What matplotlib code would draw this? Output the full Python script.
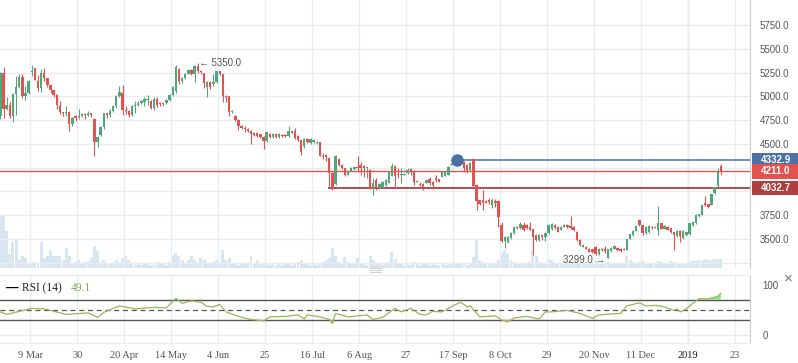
import matplotlib
matplotlib.use('Agg')
import matplotlib.pyplot as plt
from matplotlib.lines import Line2D
from matplotlib.patches import Rectangle
from matplotlib.transforms import blended_transform_factory

# daily candles (index 0 = first candle on the left)
opens = [4790, 5241, 4868, 4914, 4790, 5027, 5100, 5202, 5001, 5030,
         5255, 5293, 5160, 5089, 5250, 5188, 5114, 5065, 5019, 4896,
         4837, 4828, 4840, 4710, 4790, 4780, 4790, 4818, 4800, 4822,
         4766, 4520, 4595, 4674, 4822, 4800, 4850, 4896, 5001, 5040,
         4861, 4850, 4808, 4900, 4910, 4930, 4940, 4960, 4948, 4879,
         4974, 4930, 4930, 4930, 4966, 5009, 5054, 5290, 5160, 5195,
         5237, 5280, 5237, 5318, 5270, 5250, 5100, 5150, 5130, 5150,
         5265, 5237, 5005, 5001, 4835, 4798, 4755, 4692, 4670, 4660,
         4640, 4615, 4610, 4600, 4569, 4534, 4608, 4573, 4600, 4573,
         4595, 4595, 4580, 4632, 4632, 4580, 4537, 4474, 4552, 4510,
         4515, 4505, 4516, 4376, 4386, 4351, 4193, 4080, 4340, 4280,
         4245, 4178, 4217, 4238, 4260, 4281, 4270, 4245, 4228, 4032,
         4122, 4038, 4049, 4070, 4091, 4165, 4270, 4180, 4170, 4175,
         4196, 4238, 4217, 4112, 4080, 4080, 4091, 4133, 4101, 4143,
         4133, 4154, 4165, 4175, 4281, 4300, 4302, 4344, 4313, 4281,
         4228, 4344, 4070, 3911, 3911, 3900, 3911, 3860, 3900, 3901,
         3648, 3480, 3470, 3514, 3560, 3630, 3613, 3648, 3648, 3630,
         3605, 3542, 3489, 3542, 3524, 3560, 3600, 3648, 3630, 3595,
         3630, 3648, 3640, 3630, 3577, 3489, 3420, 3420, 3400, 3390,
         3419, 3340, 3400, 3395, 3305, 3373, 3395, 3408, 3400, 3400,
         3384, 3500, 3542, 3584, 3700, 3648, 3560, 3570, 3630, 3620,
         3595, 3665, 3610, 3630, 3613, 3570, 3530, 3584, 3506, 3540,
         3550, 3648, 3665, 3740, 3753, 3876, 3866, 3859, 3982, 4052,
         4263]
highs = [5260, 5307, 4990, 4940, 5040, 5209, 5230, 5240, 5110, 5170,
         5325, 5300, 5223, 5290, 5300, 5190, 5120, 5070, 5020, 4950,
         4840, 4900, 4845, 4780, 4800, 4870, 4830, 4820, 4850, 4830,
         4770, 4580, 4690, 4830, 4830, 4870, 4910, 5010, 5110, 5117,
         4900, 4860, 4910, 4950, 4950, 4960, 4990, 5010, 4960, 4990,
         4990, 4940, 4935, 4975, 5020, 5110, 5330, 5300, 5200, 5250,
         5290, 5290, 5330, 5350, 5280, 5250, 5160, 5160, 5240, 5270,
         5270, 5240, 5010, 5005, 4860, 4800, 4760, 4700, 4690, 4670,
         4650, 4620, 4620, 4605, 4580, 4625, 4615, 4615, 4610, 4612,
         4600, 4600, 4685, 4640, 4670, 4590, 4540, 4560, 4560, 4560,
         4555, 4530, 4520, 4400, 4390, 4355, 4200, 4380, 4350, 4290,
         4250, 4225, 4255, 4265, 4376, 4313, 4280, 4260, 4240, 4143,
         4143, 4090, 4110, 4130, 4215, 4302, 4275, 4249, 4249, 4195,
         4249, 4249, 4225, 4115, 4101, 4085, 4125, 4150, 4105, 4175,
         4135, 4210, 4210, 4265, 4295, 4340, 4345, 4386, 4318, 4285,
         4306, 4350, 4075, 3915, 4017, 3905, 3930, 3930, 3920, 3905,
         3680, 3530, 3530, 3570, 3640, 3640, 3683, 3683, 3660, 3683,
         3610, 3550, 3550, 3545, 3570, 3655, 3665, 3655, 3635, 3635,
         3655, 3655, 3746, 3635, 3580, 3495, 3445, 3425, 3405, 3395,
         3425, 3405, 3405, 3430, 3395, 3415, 3440, 3415, 3405, 3405,
         3505, 3555, 3590, 3645, 3705, 3650, 3635, 3645, 3635, 3640,
         3851, 3670, 3645, 3635, 3620, 3575, 3590, 3590, 3590, 3575,
         3670, 3690, 3760, 3765, 3865, 3954, 3870, 3975, 4050, 4245,
         4288]
lows = [4760, 4773, 4860, 4770, 4727, 4808, 5090, 4980, 4960, 5020,
        5212, 5170, 5054, 5050, 5160, 5100, 5040, 4990, 4870, 4810,
        4790, 4790, 4639, 4690, 4740, 4760, 4780, 4760, 4790, 4780,
        4368, 4470, 4580, 4660, 4770, 4780, 4840, 4880, 4990, 4808,
        4810, 4780, 4790, 4830, 4900, 4920, 4900, 4910, 4870, 4860,
        4890, 4900, 4900, 4920, 4950, 5000, 5040, 5130, 5140, 5180,
        5230, 5220, 5150, 5250, 5240, 5090, 4990, 5080, 5110, 5140,
        5220, 4938, 4940, 4798, 4830, 4740, 4650, 4660, 4630, 4620,
        4500, 4580, 4570, 4560, 4450, 4520, 4560, 4560, 4565, 4565,
        4575, 4575, 4570, 4610, 4550, 4530, 4380, 4460, 4510, 4500,
        4505, 4495, 4370, 4340, 4315, 4052, 4020, 4070, 4270, 4240,
        4160, 4170, 4210, 4230, 4200, 4175, 4157, 4143, 4030, 3964,
        4017, 4030, 4040, 4060, 4085, 4160, 4038, 4143, 4091, 4170,
        4180, 4175, 4070, 4095, 4060, 4017, 4085, 4070, 4028, 4101,
        4095, 4150, 4160, 4170, 4278, 4295, 4295, 4300, 4207, 4196,
        4220, 4055, 3810, 3860, 3806, 3875, 3870, 3830, 3840, 3630,
        3470, 3405, 3460, 3505, 3555, 3600, 3600, 3580, 3600, 3590,
        3331, 3480, 3480, 3489, 3476, 3555, 3590, 3610, 3570, 3590,
        3625, 3620, 3605, 3585, 3480, 3430, 3415, 3390, 3360, 3355,
        3331, 3335, 3375, 3355, 3299, 3365, 3390, 3375, 3365, 3380,
        3380, 3495, 3535, 3580, 3640, 3540, 3555, 3565, 3605, 3615,
        3542, 3600, 3605, 3590, 3560, 3384, 3525, 3468, 3500, 3535,
        3545, 3640, 3660, 3735, 3750, 3848, 3825, 3855, 3975, 4045,
        4168]
closes = [5241, 4868, 4914, 4790, 5027, 5100, 5202, 5001, 5030, 5160,
          5270, 5177, 5089, 5241, 5188, 5114, 5065, 5019, 4906, 4837,
          4828, 4840, 4710, 4773, 4770, 4790, 4818, 4800, 4822, 4800,
          4520, 4569, 4674, 4822, 4800, 4850, 4896, 5001, 5043, 4861,
          4850, 4808, 4903, 4910, 4930, 4950, 4970, 4970, 4879, 4974,
          4906, 4915, 4915, 4966, 5009, 5096, 5307, 5160, 5195, 5237,
          5272, 5230, 5318, 5265, 5255, 5143, 5150, 5100, 5150, 5265,
          5237, 5001, 4995, 4833, 4850, 4755, 4692, 4670, 4657, 4640,
          4600, 4590, 4580, 4575, 4534, 4621, 4573, 4608, 4573, 4608,
          4580, 4580, 4632, 4615, 4562, 4537, 4410, 4552, 4516, 4550,
          4545, 4525, 4376, 4362, 4362, 4193, 4035, 4368, 4280, 4245,
          4178, 4217, 4249, 4260, 4249, 4249, 4242, 4255, 4032, 4091,
          4038, 4080, 4101, 4122, 4207, 4270, 4165, 4170, 4180, 4186,
          4228, 4207, 4101, 4101, 4070, 4049, 4122, 4091, 4070, 4122,
          4101, 4207, 4207, 4260, 4291, 4333, 4333, 4313, 4249, 4228,
          4302, 4060, 3900, 3869, 3880, 3880, 3890, 3911, 3880, 3735,
          3482, 3520, 3524, 3560, 3630, 3613, 3655, 3595, 3613, 3595,
          3524, 3489, 3542, 3524, 3566, 3648, 3660, 3620, 3577, 3630,
          3648, 3630, 3613, 3595, 3489, 3437, 3437, 3400, 3366, 3366,
          3340, 3400, 3384, 3370, 3391, 3408, 3430, 3384, 3377, 3384,
          3500, 3550, 3584, 3640, 3648, 3560, 3630, 3640, 3613, 3630,
          3665, 3605, 3640, 3595, 3570, 3542, 3584, 3530, 3584, 3570,
          3665, 3683, 3753, 3760, 3859, 3859, 3834, 3971, 4045, 4210,
          4211]
volume = [53, 53, 37, 14, 26, 29, 8, 12, 10, 5,
          5, 6, 5, 26, 10, 12, 17, 12, 12, 12,
          8, 20, 12, 4, 6, 8, 4, 6, 7, 10,
          22, 17, 6, 8, 5, 4, 5, 8, 4, 10,
          12, 8, 4, 3, 4, 3, 4, 4, 3, 3,
          6, 5, 4, 3, 6, 12, 15, 12, 8, 4,
          8, 12, 8, 5, 10, 8, 4, 5, 6, 8,
          5, 18, 8, 10, 4, 5, 3, 5, 4, 4,
          12, 4, 8, 4, 4, 4, 3, 4, 3, 4,
          3, 4, 5, 3, 4, 6, 8, 5, 4, 3,
          4, 3, 5, 6, 8, 10, 20, 12, 6, 5,
          11, 6, 4, 5, 10, 5, 4, 3, 12, 8,
          5, 4, 3, 4, 6, 16, 9, 5, 4, 3,
          4, 3, 6, 4, 3, 5, 4, 3, 4, 3,
          3, 4, 3, 4, 5, 6, 4, 5, 4, 3,
          5, 11, 28, 8, 6, 5, 4, 5, 4, 8,
          15, 18, 15, 8, 6, 4, 5, 4, 5, 6,
          17, 12, 6, 5, 4, 9, 8, 4, 5, 4,
          4, 5, 4, 6, 8, 5, 4, 4, 5, 6,
          8, 5, 4, 5, 6, 5, 4, 4, 5, 4,
          12, 8, 6, 5, 6, 7, 5, 4, 4, 5,
          7, 6, 5, 5, 7, 6, 5, 4, 4, 5,
          6, 7, 7, 8, 8, 9, 8, 8, 9, 9,
          9]

# RSI(14) line, points
rsi_idx = [0, 2, 10, 14, 21, 28, 31, 33, 38, 43, 49, 53, 56, 58, 61, 64,
           66, 68, 70, 72, 77, 80, 84, 86, 91, 95, 97, 98, 102, 105, 106,
           107, 111, 117, 119, 122, 126, 128, 131, 134, 136, 138, 141, 145,
           147, 149, 150, 153, 158, 160, 162, 164, 168, 172, 174, 176, 181,
           185, 189, 191, 195, 198, 200, 202, 204, 206, 209, 212, 215, 216,
           217, 219, 220, 223, 226, 229, 230]
rsi_val = [46, 41, 53, 52, 41, 44, 35, 45, 58, 52, 55, 54, 73, 63, 68, 65,
           57, 56, 61, 46, 35, 31, 28, 36, 37, 40, 32, 40, 36, 31, 23,
           43, 36, 40, 31, 35, 53, 46, 53, 41, 40, 47, 46, 60,
           65, 56, 58, 36, 38, 30, 26, 34, 37, 32, 46, 46, 49,
           43, 33, 40, 42, 43, 58, 61, 64, 58, 59, 56, 49, 52,
           46, 52, 58, 72, 72, 77, 83]

tick_labels = ['9 Mar', '30', '20 Apr', '14 May', '4 Jun', '25', '16 Jul',
               '6 Aug', '27', '17 Sep', '8 Oct', '29', '20 Nov', '11 Dec',
               '2019', '23']
price_grid = [3250, 3500, 3750, 4000, 4250, 4500, 4750, 5000, 5250, 5500, 5750]
hidden_labels = [3250, 4000, 4250]

high_mark = (63, 5350.0)
low_mark = (194, 3299.0)
pivot = (145.7, 4332.9)
last_price = 4211.0
support = (104.6, 4032.7)

GREEN = '#55a57c'
RED = '#e2534f'
DARK_RED = '#ad3f3f'
BLUE = '#4a70a8'
GRID = '#e9ecf0'
TEXT = '#555555'

W, H = 798, 363


def px_axes(fig, x0, y0, x1, y1):
    return fig.add_axes([x0 / W, 1 - y1 / H, (x1 - x0) / W, (y1 - y0) / H])


def draw_price(ax):
    n = len(closes)
    x = list(range(n))
    colors = [GREEN if c >= o else RED for o, c in zip(opens, closes)]
    bottoms = [min(o, c) for o, c in zip(opens, closes)]
    heights = [max(abs(c - o), 9) for o, c in zip(opens, closes)]
    ax.vlines(x, lows, highs, colors=colors, linewidth=0.8, zorder=3)
    ax.bar(x, heights, bottom=bottoms, width=0.75, color=colors,
           linewidth=0, zorder=4)

    for level in price_grid:
        ax.axhline(level, color=GRID, linewidth=1, zorder=0)

    # drawn levels
    ax.axhline(last_price, color=RED, linewidth=1, zorder=2)
    ax.hlines(support[1], support[0], 250, color=DARK_RED, linewidth=1.3, zorder=2)
    ax.hlines(pivot[1], pivot[0], 250, color=BLUE, linewidth=1.1, zorder=2)
    ax.plot(pivot[0], pivot[1], 'o', color=BLUE, markersize=8, zorder=5)

    ax.text(high_mark[0] + 0.5, high_mark[1], '\u2190 ' + '%.1f' % high_mark[1],
            ha='left', va='center', fontsize=7, color=TEXT, zorder=6)
    ax.text(low_mark[0] - 0.9, low_mark[1] - 20, '%.1f' % low_mark[1] + ' \u2192',
            ha='right', va='center', fontsize=7, color=TEXT, zorder=6)

    ax.set_ylim(3195, 6013)
    ax.yaxis.tick_right()
    ax.set_yticks(price_grid)
    ax.set_yticklabels(['' if v in hidden_labels else '%.1f' % v for v in price_grid],
                       fontsize=7, color=TEXT)
    ax.tick_params(axis='y', length=0, pad=7)
    ax.tick_params(axis='x', length=0, labelbottom=False)

    # price tags on the right
    trans = blended_transform_factory(ax.transAxes, ax.transData)
    tag_h = 150
    for level, color in [(pivot[1], BLUE), (last_price, RED), (support[1], DARK_RED)]:
        ax.add_patch(Rectangle((1.002, level - tag_h / 2), 0.07, tag_h,
                               transform=trans, facecolor=color, edgecolor='none',
                               clip_on=False, zorder=7))
        ax.text(1.0145, level, '%.1f' % level, transform=trans, ha='left',
                va='center', fontsize=7, color='white', fontweight='bold',
                clip_on=False, zorder=8)


def draw_volume(ax):
    vol = ax.twinx()
    vol.bar(range(len(volume)), volume, width=0.95, color='#d9e5f0', linewidth=0)
    vol.set_ylim(0, max(volume) * 5.05)
    vol.axis('off')
    ax.set_zorder(vol.get_zorder() + 1)
    ax.patch.set_visible(False)


def draw_rsi(ax):
    ax.plot(rsi_idx, rsi_val, color='#9ab55a', linewidth=0.9, zorder=3)
    ax.fill_between(rsi_idx, rsi_val, 30, where=[v < 30 for v in rsi_val],
                    interpolate=True, color='#f08a80', linewidth=0, zorder=2)
    ax.fill_between(rsi_idx, rsi_val, 70, where=[v > 70 for v in rsi_val],
                    interpolate=True, color='#8fe58a', linewidth=0, zorder=2)
    ax.axhline(70, color='#555555', linewidth=1, zorder=1)
    ax.axhline(30, color='#555555', linewidth=1, zorder=1)
    ax.axhline(50, color='#555555', linewidth=0.9, linestyle=(0, (4, 3)), zorder=1)
    ax.axhline(0, color=GRID, linewidth=1, zorder=0)
    ax.set_ylim(-16, 119.5)
    ax.yaxis.tick_right()
    ax.set_yticks([0, 100])
    ax.set_yticklabels(['0', '100'], fontsize=7, color=TEXT)
    ax.tick_params(axis='y', length=0, pad=9)

    ax.text(6 / 750, 0.81, '\u2014', transform=ax.transAxes, fontsize=9,
            fontweight='bold', color='black', va='center', ha='left')
    ax.text(22 / 750, 0.81, 'RSI (14)', transform=ax.transAxes, fontsize=8.3,
            family='Liberation Serif', color='#222222', va='center', ha='left')
    ax.text(71 / 750, 0.81, '49.1', transform=ax.transAxes, fontsize=8.3,
            family='Liberation Serif', color='#8aab4a', va='center', ha='left')


def style_axes(ax, ticks):
    ax.set_xlim(-0.13, 239.3)
    ax.set_xticks(ticks)
    ax.grid(axis='x', color=GRID, linewidth=1)
    ax.set_axisbelow(True)
    for side in ['top', 'bottom', 'left']:
        ax.spines[side].set_visible(False)
    ax.spines['right'].set_color('#cccccc')


def main():
    plt.rcParams['font.family'] = ['Liberation Sans', 'DejaVu Sans']
    fig = plt.figure(figsize=(W / 100, H / 100), dpi=100)

    ax = px_axes(fig, 0, 0, 750, 268)
    rsi_ax = px_axes(fig, 0, 275, 750, 343)

    ticks = [9.5 + 15 * k for k in range(len(tick_labels))]

    draw_volume(ax)
    style_axes(ax, ticks)
    draw_price(ax)

    style_axes(rsi_ax, ticks)
    draw_rsi(rsi_ax)
    rsi_ax.spines['top'].set_visible(True)
    rsi_ax.spines['top'].set_color(GRID)
    rsi_ax.spines['bottom'].set_visible(True)
    rsi_ax.spines['bottom'].set_color(GRID)
    rsi_ax.set_xticklabels(tick_labels, fontsize=7.5, family='Liberation Serif',
                           color=TEXT)
    rsi_ax.tick_params(axis='x', length=0, pad=6)
    for label in rsi_ax.get_xticklabels():
        if label.get_text() == '2019':
            label.set_color('#111111')
    # year boundary gridline is a bit darker
    for a in (ax, rsi_ax):
        a.axvline(ticks[tick_labels.index('2019')], color='#d6d6d6', linewidth=1, zorder=0)

    # panel resize handle and close cross
    for dy in (267.5, 269.5, 271.5):
        fig.add_artist(Line2D([370 / W, 381 / W], [1 - dy / H, 1 - dy / H],
                              color='#c8c8c8', linewidth=0.6))
    fig.text(788 / W, 1 - 279 / H, '\u00d7', fontsize=11, color='#777777',
             ha='center', va='center')

    fig.savefig('out.png', dpi=100)


if __name__ == "__main__":
    main()
